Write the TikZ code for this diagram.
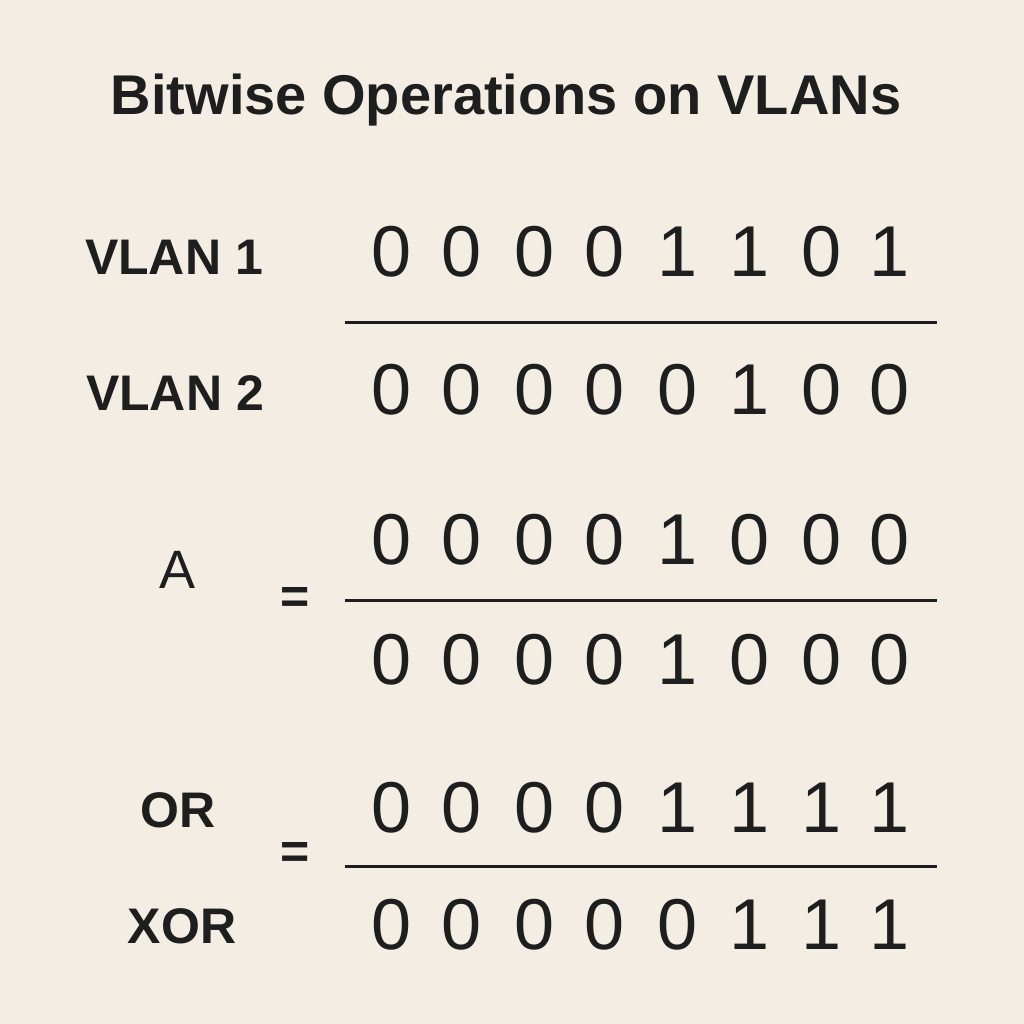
\documentclass[tikz,border=0pt]{standalone}
\usepackage{fontspec}
\setmainfont{Liberation Sans}
\definecolor{bg}{HTML}{F3EDE3}
\definecolor{ink}{HTML}{1E1E1E}
\begin{document}
\begin{tikzpicture}[x=1pt,y=-1pt,
  digit/.style={text=ink,font=\fontsize{72}{72}\selectfont,inner sep=0pt,anchor=center},
  lab/.style={text=ink,font=\bfseries\fontsize{50}{50}\selectfont,inner sep=0pt,anchor=center},
  rule/.style={draw=ink,line width=3pt}]
\fill[bg] (0,0) rectangle (1024,1024);
\useasboundingbox (0,0) rectangle (1024,1024);
\node[text=ink,font=\bfseries\fontsize{56}{56}\selectfont,inner sep=0pt] (title) at (506,100) {Bitwise Operations on VLANs};
\def\cols{392,462,535,605,678,750,822,890}
\foreach \row/\y/\bits in {r1/252/{0,0,0,0,1,1,0,1}, r2/390/{0,0,0,0,0,1,0,0}, r3/540/{0,0,0,0,1,0,0,0}, r4/660/{0,0,0,0,1,0,0,0}, r5/808/{0,0,0,0,1,1,1,1}, r6/925/{0,0,0,0,0,1,1,1}}{
  \foreach \b [count=\i] in \bits {
    \pgfmathsetmacro{\xx}{{392,462,535,605,678,750,822,890}[\i-1]}
    \node[digit] (\row-\i) at (\xx,\y) {\b};
  }
}
\coordinate (l1a) at (345,322); \coordinate (l1b) at (937,322);
\coordinate (l2a) at (345,600); \coordinate (l2b) at (937,600);
\coordinate (l3a) at (345,866); \coordinate (l3b) at (937,866);
\draw[rule] (l1a) -- (l1b);
\draw[rule] (l2a) -- (l2b);
\draw[rule] (l3a) -- (l3b);
\node[lab] (v1) at (174,257) {VLAN 1};
\node[lab] (v2) at (175,393) {VLAN 2};
\node[lab,font=\fontsize{54}{54}\selectfont] (a) at (178,570) {A};
\node[lab] (eq1) at (295,600) {=};
\node[lab] (or) at (178,810) {OR};
\node[lab] (eq2) at (295,855) {=};
\node[lab] (xor) at (182,926) {XOR};
\end{tikzpicture}
\end{document}
